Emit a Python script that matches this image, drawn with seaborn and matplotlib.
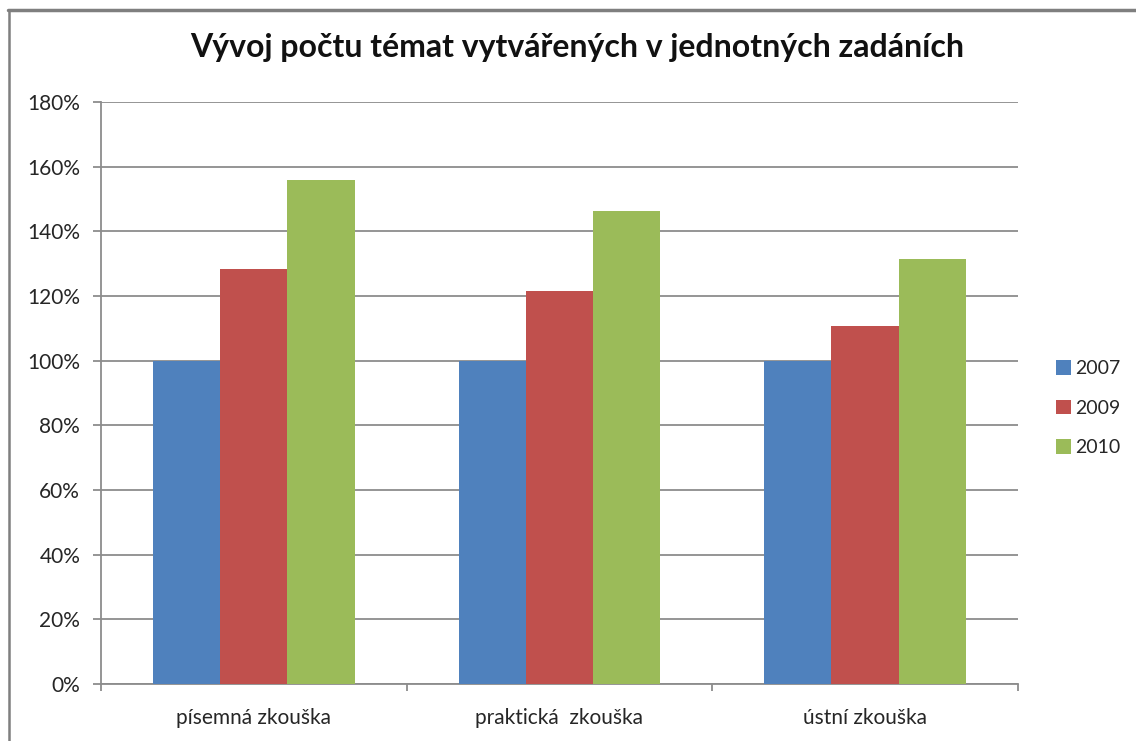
import matplotlib
matplotlib.use('Agg')
from matplotlib import pyplot as plt
from matplotlib.lines import Line2D
from matplotlib.ticker import FuncFormatter
import pandas as pd
import seaborn as sns

# data
categories = ['písemná zkouška', 'praktická  zkouška', 'ústní zkouška']
years = ['2007', '2009', '2010']
v2007 = [100, 100, 100]
v2009 = [128.5, 121.5, 110.8]
v2010 = [156, 146.2, 131.5]
colors = ['#4F81BD', '#C0504D', '#9BBB59']
title = 'Vývoj počtu témat vytvářených v jednotných zadáních'


def main():
    rows = []
    for year, vals in zip(years, [v2007, v2009, v2010]):
        for cat, v in zip(categories, vals):
            rows.append({'kategorie': cat, 'rok': year, 'hodnota': v})
    df = pd.DataFrame(rows)

    sns.set_style('white')
    plt.rcParams['font.family'] = ['Lato', 'DejaVu Sans']

    fig = plt.figure(figsize=(11.36, 7.41), dpi=100)
    ax = fig.add_axes([0.0889, 0.0769, 0.8071, 0.7854])

    sns.barplot(data=df, x='kategorie', y='hodnota', hue='rok', order=categories,
                hue_order=years, palette=colors, width=0.66, gap=0,
                saturation=1, edgecolor='none', linewidth=0, ax=ax, zorder=3)

    ax.set_ylim(0, 180)
    ax.set_xlim(-0.5, 2.5)
    ax.set_yticks(range(0, 181, 20))
    ax.yaxis.set_major_formatter(FuncFormatter(lambda v, p: '%d%%' % v))
    ax.grid(axis='y', color='#8c8c8c', linewidth=1.3, zorder=0)
    ax.set_axisbelow(True)

    for s in ['top', 'right']:
        ax.spines[s].set_visible(False)
    for s in ['left', 'bottom']:
        ax.spines[s].set_color('#8c8c8c')
        ax.spines[s].set_linewidth(1.3)

    ax.tick_params(axis='y', which='major', left=True, length=6, width=1.3,
                   color='#8c8c8c', labelsize=15, labelcolor='#262626', pad=9)
    ax.tick_params(axis='x', which='major', length=0, labelsize=15,
                   labelcolor='#262626', pad=17)
    ax.set_xticks([-0.5, 0.5, 1.5, 2.5], minor=True)
    ax.tick_params(axis='x', which='minor', bottom=True, length=5, width=1.3,
                   color='#8c8c8c')
    ax.set_xlabel('')
    ax.set_ylabel('')

    handles, labels = ax.get_legend_handles_labels()
    ax.legend(handles, labels, loc='center left', bbox_to_anchor=(1.022, 0.474),
              frameon=False, fontsize=14, handlelength=0.8, handleheight=0.8,
              handletextpad=0.2, labelspacing=1.15, labelcolor='#262626')

    fig.suptitle(title, x=0.508, y=0.955, fontsize=23, fontweight='bold',
                 color='#111111')

    # outer frame (top and left edges visible in the original)
    fig.add_artist(Line2D([0.007, 1.0], [0.987, 0.987], transform=fig.transFigure,
                          color='#7f7f7f', linewidth=2.5))
    fig.add_artist(Line2D([0.008, 0.008], [0.0, 0.987], transform=fig.transFigure,
                          color='#7f7f7f', linewidth=1.8))

    plt.savefig('out.png', dpi=100)


if __name__ == '__main__':
    main()
